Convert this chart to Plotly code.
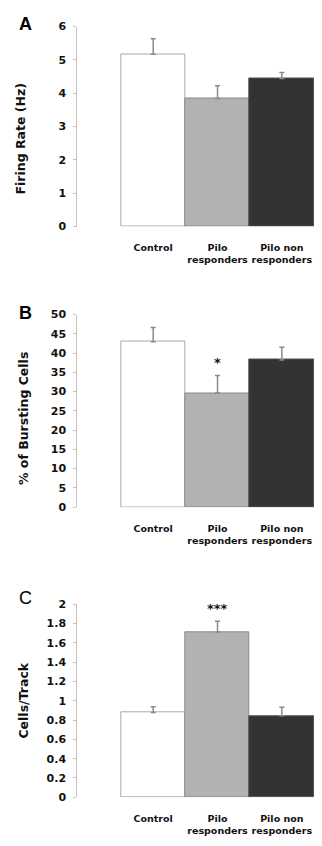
import plotly.graph_objects as go

# ---- data ----
groups = ["Control", "Pilo responders", "Pilo non responders"]
group_ticks = ["Control", "Pilo<br>responders", "Pilo non<br>responders"]

firing_rate = [5.17, 3.84, 4.44]
firing_err = [0.46, 0.38, 0.18]

bursting = [42.9, 29.6, 38.2]
bursting_err = [3.7, 4.6, 3.3]

cells_track = [0.878, 1.714, 0.844]
cells_err = [0.06, 0.11, 0.09]

panel_letters = ["A", "B", "C"]
y_titles = ["Firing Rate (Hz)", "% of Bursting Cells", "Cells/Track"]
significance = [["", "", ""], ["", "*", ""], ["", "***", ""]]

# ---- styling ----
# the page body keeps its default 8px margin, so the figure is 16px smaller
OFF = 8
W, H = 322 - 2 * OFF, 846 - 2 * OFF
fills = ["#ffffff", "#b2b2b2", "#333333"]
edges = ["#a8a8a8", "#8a8a8a", "#505050"]
axis_col = "#c4c4c4"
tick_font = dict(family="DejaVu Sans", size=11, color="#111111", weight="bold")
xtick_font = dict(family="DejaVu Sans", size=9.5, color="#111111", weight="bold")

def px(pix):
    return (pix - OFF) / W

def py(pix):
    return (H - (pix - OFF)) / H

panels = [
    dict(vals=firing_rate, errs=firing_err, yr=[0, 6], dtick=1, ydom=[py(224), py(20.7)],
         title_xy=(20.5, 135), letter_xy=(25, 18)),
    dict(vals=bursting, errs=bursting_err, yr=[0, 50], dtick=5, ydom=[py(509), py(313.3)],
         title_xy=(23.5, 419), letter_xy=(25, 312)),
    dict(vals=cells_track, errs=cells_err, yr=[0, 2], dtick=0.2, ydom=[py(803.7), py(607.7)],
         title_xy=(23.5, 706), letter_xy=(25, 601.5)),
]

fig = go.Figure()
xdom = [px(77.3), px(314)]
xpos = [0, 1, 2]
annotations = []

for i, p in enumerate(panels):
    n = "" if i == 0 else str(i + 1)
    fig.add_trace(go.Bar(
        x=xpos, y=p["vals"],
        marker=dict(color=fills, line=dict(color=edges, width=1)),
        error_y=dict(type="data", array=p["errs"], arrayminus=[0, 0, 0], symmetric=False,
                     color="#8a8a8a", thickness=1.5, width=2.5),
        width=1, xaxis="x" + n, yaxis="y" + n, showlegend=False,
    ))
    fig.update_layout(**{
        "xaxis" + n: dict(domain=xdom, range=[-1.18, 2.5], anchor="y" + n,
                          tickvals=xpos, ticktext=group_ticks, ticks="", tickangle=0,
                          showline=False, showgrid=False, zeroline=False,
                          tickfont=xtick_font, ticklabelstandoff=14, fixedrange=True),
        "yaxis" + n: dict(domain=p["ydom"], range=p["yr"], dtick=p["dtick"], anchor="x" + n,
                          showline=True, linecolor=axis_col, linewidth=1,
                          ticks="outside", ticklen=3, tickcolor=axis_col, tickwidth=1,
                          showgrid=False, zeroline=False, tickfont=tick_font,
                          ticklabelstandoff=5, fixedrange=True),
    })
    # y-axis title
    annotations.append(dict(x=px(p["title_xy"][0]), y=py(p["title_xy"][1]), xref="paper", yref="paper",
                            text=y_titles[i], textangle=-90, showarrow=False,
                            xanchor="center", yanchor="middle",
                            font=dict(family="DejaVu Sans", size=12.5, color="#111111", weight="bold")))
    # panel letter
    annotations.append(dict(x=px(p["letter_xy"][0]), y=py(p["letter_xy"][1]), xref="paper", yref="paper",
                            text=panel_letters[i], showarrow=False,
                            xanchor="center", yanchor="middle",
                            font=dict(family="Liberation Sans", size=18, color="#000000",
                                      weight="bold" if i < 2 else "normal")))
    # significance stars
    for j, s in enumerate(significance[i]):
        if s:
            annotations.append(dict(x=xpos[j], y=p["vals"][j] + p["errs"][j],
                                    xref="x" + n, yref="y" + n, text=s, showarrow=False,
                                    xanchor="center", yanchor="bottom", yshift=3,
                                    font=dict(family="DejaVu Sans", size=13, color="#111111",
                                              weight="bold")))

fig.update_layout(
    width=W, height=H, margin=dict(l=0, r=0, t=0, b=0),
    paper_bgcolor="white", plot_bgcolor="white",
    bargap=0, annotations=annotations,
)

fig.write_html("out.html")
